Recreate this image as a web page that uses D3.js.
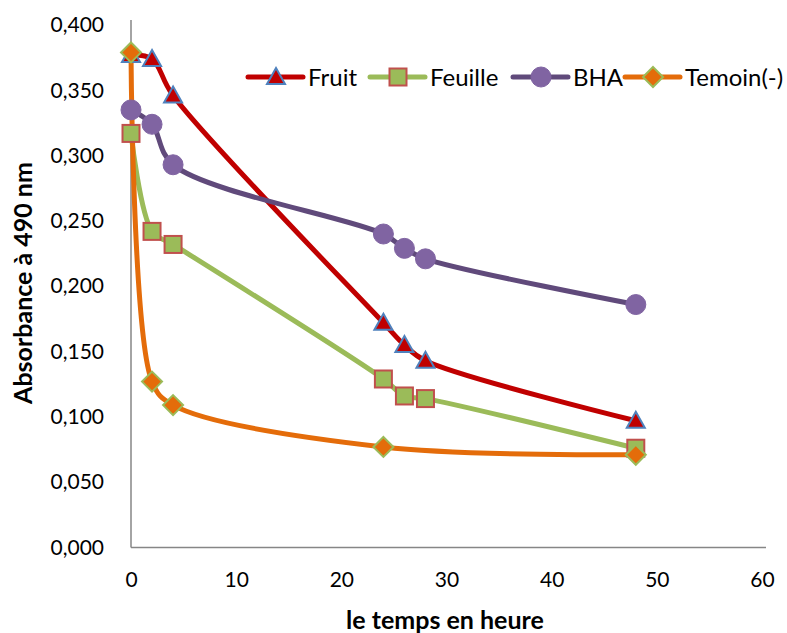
<!DOCTYPE html>
<html>
<head>
<meta charset="utf-8">
<script src="https://cdn.jsdelivr.net/npm/d3@7"></script>
<style>
  body { margin: 0; background: #fff; }
  svg text { font-family: Lato, 'Open Sans', sans-serif; fill: #000; }
</style>
</head>
<body>
<div id="chart"></div>
<script>
// hours
const hours = [0, 2, 4, 24, 26, 28, 48];
const hoursTemoin = [0, 2, 4, 24, 48];

// absorbance at 490 nm
const fruit = [0.377, 0.374, 0.346, 0.172, 0.155, 0.143, 0.097];
const feuille = [0.317, 0.242, 0.232, 0.129, 0.116, 0.114, 0.076];
const bha = [0.335, 0.324, 0.293, 0.240, 0.229, 0.221, 0.186];
const temoin = [0.379, 0.127, 0.109, 0.077, 0.071];

const xTicks = [0, 10, 20, 30, 40, 50, 60];
const yTicks = [0, 0.05, 0.1, 0.15, 0.2, 0.25, 0.3, 0.35, 0.4];

const series = [
    { name: "Fruit", x: hours, y: fruit, line: "#C00000", fill: "#C00000", stroke: "#4F81BD", shape: "triangle" },
    { name: "Feuille", x: hours, y: feuille, line: "#9BBB59", fill: "#9BBB59", stroke: "#C0504D", shape: "square" },
    { name: "BHA", x: hours, y: bha, line: "#604A7B", fill: "#8064A2", stroke: "#8064A2", shape: "circle" },
    { name: "Temoin(-)", x: hoursTemoin, y: temoin, line: "#E46C0A", fill: "#E46C0A", stroke: "#9BBB59", shape: "diamond" }
];

const width = 787, height = 633;
const margin = { top: 25, right: 25, bottom: 86, left: 131 };
const h = height - margin.top - margin.bottom;

const svg = d3.select("#chart").append("svg")
    .attr("width", width)
    .attr("height", height);

const g = svg.append("g")
    .attr("transform", "translate(" + margin.left + "," + margin.top + ")");

const x = d3.scaleLinear().domain([0, 60]).range([0, 631]);
const y = d3.scaleLinear().domain([0, 0.4]).range([h + 0.5, 0]);

const fmt = d => d3.format(".3f")(d).replace(".", ",");

// axes
const yAxis = g.append("g")
    .call(d3.axisLeft(y).tickValues(yTicks).tickFormat(fmt).tickSize(0).tickPadding(27));
yAxis.select(".domain").attr("stroke", "#868686").attr("stroke-width", 1.5)
    .attr("d", "M0,-5V" + y(0));
yAxis.selectAll("text").style("font-size", "21px");

const xAxis = g.append("g")
    .attr("transform", "translate(0," + y(0) + ")")
    .call(d3.axisBottom(x).tickValues(xTicks).tickSize(0).tickPadding(25));
xAxis.select(".domain").attr("stroke", "#868686").attr("stroke-width", 1.5)
    .attr("d", "M0,0H" + (x(60) + 4));
xAxis.selectAll("text").style("font-size", "21px");

// axis titles
svg.append("text")
    .attr("x", 445).attr("y", 629)
    .attr("text-anchor", "middle")
    .style("font-size", "25px").style("font-weight", "bold")
    .text("le temps en heure");

svg.append("text")
    .attr("transform", "translate(32,283) rotate(-90)")
    .attr("text-anchor", "middle")
    .style("font-size", "25px").style("font-weight", "bold")
    .text("Absorbance à 490 nm");

function drawMarker(sel, s) {
    if (s.shape === "circle") {
        sel.append("circle").attr("r", 10).attr("fill", s.fill).attr("stroke", s.stroke);
    } else if (s.shape === "triangle") {
        sel.append("path").attr("d", "M0,-9L9,7L-9,7Z")
            .attr("fill", s.fill).attr("stroke", s.stroke).attr("stroke-width", 2);
    } else if (s.shape === "square") {
        sel.append("rect").attr("x", -8.5).attr("y", -8.5).attr("width", 17).attr("height", 17)
            .attr("fill", s.fill).attr("stroke", s.stroke).attr("stroke-width", 2);
    } else {
        sel.append("path").attr("d", "M0,-10L10,0L0,10L-10,0Z")
            .attr("fill", s.fill).attr("stroke", s.stroke).attr("stroke-width", 2);
    }
}

const line = d3.line()
    .x(d => x(d[0]))
    .y(d => y(d[1]))
    .curve(d3.curveCatmullRom.alpha(0.5));

series.forEach(function (s) {
    const pts = s.x.map((t, i) => [t, s.y[i]]);
    g.append("path")
        .datum(pts)
        .attr("fill", "none")
        .attr("stroke", s.line)
        .attr("stroke-width", 5)
        .attr("stroke-linejoin", "round")
        .attr("stroke-linecap", "round")
        .attr("d", line);
});

series.forEach(function (s) {
    const pts = s.x.map((t, i) => [t, s.y[i]]);
    pts.forEach(function (p) {
        const m = g.append("g").attr("transform", "translate(" + x(p[0]) + "," + y(p[1]) + ")");
        drawMarker(m, s);
    });
});

// legend
const legendX = [248, 370, 513, 625];
series.forEach(function (s, i) {
    const lg = svg.append("g").attr("transform", "translate(" + legendX[i] + ",77)");
    lg.append("line").attr("x1", 0).attr("x2", 55).attr("y1", 0).attr("y2", 0)
        .attr("stroke", s.line).attr("stroke-width", 5).attr("stroke-linecap", "round");
    drawMarker(lg.append("g").attr("transform", "translate(28,0)"), s);
    lg.append("text").attr("x", 60).attr("y", 9)
        .style("font-size", "24px")
        .text(s.name);
});
</script>
</body>
</html>
